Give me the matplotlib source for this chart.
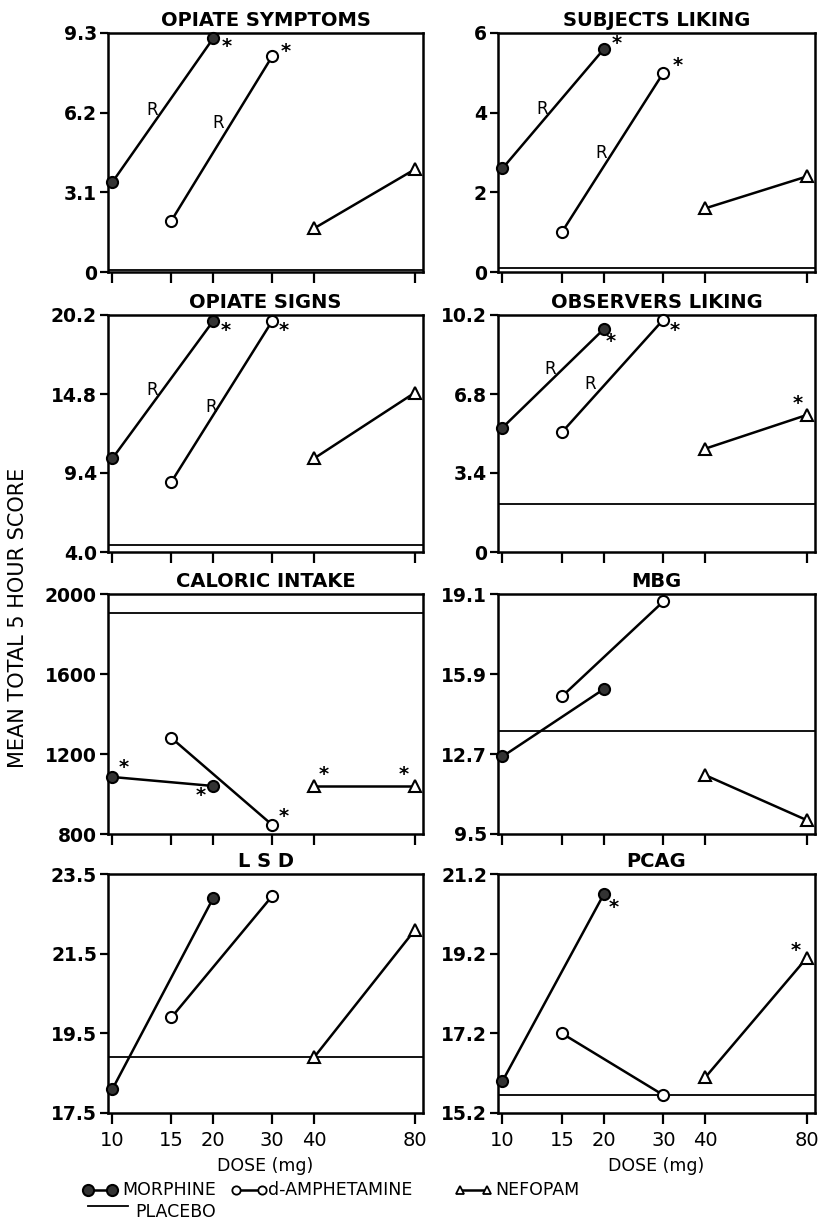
import numpy as np
import matplotlib
matplotlib.use("Agg")
import matplotlib.pyplot as plt
from matplotlib.lines import Line2D

plt.rcParams['font.family'] = ['DejaVu Sans']
plt.rcParams['font.weight'] = 'bold'

# ---------------- data ----------------
dose_ticks = [10, 15, 20, 30, 40, 80]
morphine_dose = [10, 20]
amphetamine_dose = [15, 30]
nefopam_dose = [40, 80]

titles = ["OPIATE SYMPTOMS", "SUBJECTS LIKING",
          "OPIATE SIGNS", "OBSERVERS LIKING",
          "CALORIC INTAKE", "MBG",
          "L S D", "PCAG"]

yticks = [
    [0, 3.1, 6.2, 9.3],
    [0, 2, 4, 6],
    [4.0, 9.4, 14.8, 20.2],
    [0, 3.4, 6.8, 10.2],
    [800, 1200, 1600, 2000],
    [9.5, 12.7, 15.9, 19.1],
    [17.5, 19.5, 21.5, 23.5],
    [15.2, 17.2, 19.2, 21.2],
]
ytick_labels = [
    ["0", "3.1", "6.2", "9.3"],
    ["0", "2", "4", "6"],
    ["4.0", "9.4", "14.8", "20.2"],
    ["0", "3.4", "6.8", "10.2"],
    ["800", "1200", "1600", "2000"],
    ["9.5", "12.7", "15.9", "19.1"],
    ["17.5", "19.5", "21.5", "23.5"],
    ["15.2", "17.2", "19.2", "21.2"],
]

morphine = [
    [3.5, 9.1],
    [2.6, 5.6],
    [10.4, 19.8],
    [5.35, 9.6],
    [1085, 1040],
    [12.6, 15.3],
    [18.1, 22.9],
    [16.0, 20.7],
]
amphetamine = [
    [2.0, 8.4],
    [1.0, 5.0],
    [8.8, 19.8],
    [5.15, 10.0],
    [1280, 845],
    [15.0, 18.8],
    [19.9, 22.95],
    [17.2, 15.65],
]
nefopam = [
    [1.7, 4.0],
    [1.6, 2.4],
    [10.4, 14.9],
    [4.45, 5.9],
    [1040, 1040],
    [11.85, 10.05],
    [18.9, 22.1],
    [16.1, 19.1],
]
placebo = [0.08, 0.1, 4.5, 2.05, 1905, 13.6, 18.9, 15.65]

# significance asterisks: (panel, series, point index, dx pts, dy pts)
asterisks = [
    (0, 'm', 1, 10, -6), (0, 'a', 1, 10, 3),
    (1, 'm', 1, 9, 4), (1, 'a', 1, 10, 5),
    (2, 'm', 1, 9, -7), (2, 'a', 1, 8, -7),
    (3, 'm', 1, 5, -9), (3, 'a', 1, 8, -8), (3, 'n', 1, -7, 8),
    (4, 'm', 0, 8, 7), (4, 'm', 1, -9, -7), (4, 'a', 1, 8, 6),
    (4, 'n', 0, 7, 8), (4, 'n', 1, -8, 8),
    (7, 'm', 1, 7, -10), (7, 'n', 1, -8, 5),
]
# "R" labels near line midpoints: (panel, series, dx pts, dy pts)
r_labels = [
    (0, 'm', -8, 0), (0, 'a', -3, 11),
    (1, 'm', -8, 0), (1, 'a', -8, 0),
    (2, 'm', -8, 0), (2, 'a', -8, -4),
    (3, 'm', -2, 7), (3, 'a', -16, -6),
]

# ---------------- figure ----------------
fig = plt.figure(figsize=(8.23, 12.22), dpi=100)
W, H = 823, 1222
col_x = [(108, 423), (498, 815)]
row_y = [(33, 272), (315, 552), (594, 834), (874, 1113)]

series = {'m': (morphine_dose, morphine), 'a': (amphetamine_dose, amphetamine),
          'n': (nefopam_dose, nefopam)}
styles = {
    'm': dict(marker='o', markersize=8, markerfacecolor='#333333', markeredgecolor='black', markeredgewidth=1.5),
    'a': dict(marker='o', markersize=8, markerfacecolor='white', markeredgecolor='black', markeredgewidth=1.5),
    'n': dict(marker='^', markersize=8, markerfacecolor='white', markeredgecolor='black', markeredgewidth=1.5),
}

axes = []
for i in range(8):
    r, c = divmod(i, 2)
    x0, x1 = col_x[c]
    y0, y1 = row_y[r]
    ax = fig.add_axes([x0 / W, 1 - y1 / H, (x1 - x0) / W, (y1 - y0) / H])
    axes.append(ax)
    ax.set_xscale('log')
    ax.set_xlim(9.7, 84.5)
    ax.set_ylim(yticks[i][0], yticks[i][-1])
    ax.axhline(placebo[i], color='black', lw=1.3, zorder=1)
    for key in ['m', 'a', 'n']:
        d, vals = series[key]
        ax.plot(d, vals[i], color='black', lw=1.8, zorder=3, clip_on=False, **styles[key])
    ax.set_xticks(dose_ticks)
    ax.minorticks_off()
    if r == 3:
        ax.set_xticklabels([str(v) for v in dose_ticks], fontsize=14, fontweight='normal')
        ax.set_xlabel("DOSE (mg)", fontsize=12.5, fontweight='normal', labelpad=5)
    else:
        ax.set_xticklabels([])
    ax.set_yticks(yticks[i])
    ax.set_yticklabels(ytick_labels[i], fontsize=13.5)
    ax.tick_params(axis='x', direction='out', length=8, width=1.6, pad=5)
    ax.tick_params(axis='y', direction='out', length=6, width=1.6, pad=2)
    for s in ax.spines.values():
        s.set_linewidth(1.8)
    ax.set_title(titles[i], fontsize=14, fontweight='bold', pad=5)

for (p, key, idx, dx, dy) in asterisks:
    d, vals = series[key]
    axes[p].annotate('*', xy=(d[idx], vals[p][idx]), xytext=(dx, dy), textcoords='offset points',
                     ha='center', va='center', fontsize=14, fontweight='bold')

for (p, key, dx, dy) in r_labels:
    d, vals = series[key]
    xm = np.sqrt(d[0] * d[1])
    ym = (vals[p][0] + vals[p][1]) / 2
    axes[p].annotate('R', xy=(xm, ym), xytext=(dx, dy), textcoords='offset points',
                     ha='center', va='center', fontsize=12, fontweight='normal')

fig.text(18 / W, 1 - 618 / H, "MEAN TOTAL 5 HOUR SCORE", rotation=90, ha='center', va='center',
         fontsize=15, fontweight='normal')

# ---------------- legend ----------------
def fx(px):
    return px / W

def fy(py):
    return 1 - py / H

ly = 1190
fig.add_artist(Line2D([fx(88), fx(112)], [fy(ly), fy(ly)], transform=fig.transFigure, color='black', lw=1.8,
                      **styles['m']))
fig.text(fx(122), fy(ly), "MORPHINE", ha='left', va='center', fontsize=12.5, fontweight='normal')
fig.add_artist(Line2D([fx(236), fx(262)], [fy(ly), fy(ly)], transform=fig.transFigure, color='black', lw=1.8,
                      marker='o', markersize=6, markerfacecolor='white', markeredgecolor='black', markeredgewidth=1.3))
fig.text(fx(268), fy(ly), "d-AMPHETAMINE", ha='left', va='center', fontsize=12.5, fontweight='normal')
fig.add_artist(Line2D([fx(460), fx(487)], [fy(ly), fy(ly)], transform=fig.transFigure, color='black', lw=1.8,
                      marker='^', markersize=6, markerfacecolor='white', markeredgecolor='black', markeredgewidth=1.3))
fig.text(fx(495), fy(ly), "NEFOPAM", ha='left', va='center', fontsize=12.5, fontweight='normal')
fig.add_artist(Line2D([fx(88), fx(128)], [fy(1206), fy(1206)], transform=fig.transFigure, color='black', lw=1.3))
fig.text(fx(135), fy(1212), "PLACEBO", ha='left', va='center', fontsize=12.5, fontweight='normal')

fig.savefig("out.png", dpi=100, facecolor='white')
